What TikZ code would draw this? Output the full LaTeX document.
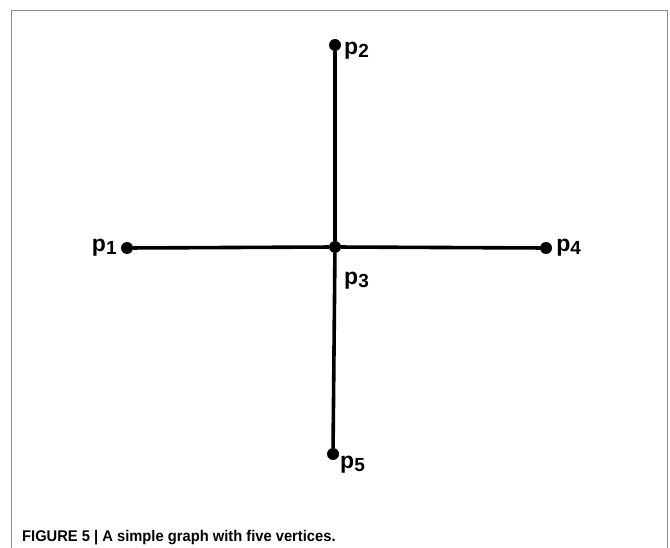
\documentclass[tikz,border=0pt]{standalone}
\usepackage{fontspec}
\setmainfont{Liberation Sans}
\usetikzlibrary{positioning}

\begin{document}
\begin{tikzpicture}[
    x=1pt, y=-1pt,
    node distance=2pt and 3pt,
    vertex/.style={circle, fill=black, inner sep=0pt, minimum size=12pt},
    vlabel/.style={inner sep=0pt, font=\bfseries\fontsize{23}{23}\selectfont},
    edge/.style={line width=3.6pt},
    frameline/.style={draw=black!45, line width=1pt}
]
\useasboundingbox (0,0) rectangle (670,548);

% Frame
\draw[frameline] (11,548) -- (11,11) -- (667,11) -- (667,548);

% Vertices
\node[vertex] (p1) at (127,248) {};
\node[vertex] (p2) at (335,45) {};
\node[vertex] (p3) at (335,247) {};
\node[vertex] (p4) at (546,248) {};
\node[vertex] (p5) at (333,454) {};

% Labels
\node[vlabel, left=4pt of p1] (l1) {p\raisebox{-3pt}{\fontsize{19}{19}\selectfont 1}};
\node[vlabel, anchor=west] (l2) at (344,51) {p\raisebox{-3pt}{\fontsize{19}{19}\selectfont 2}};
\node[vlabel, anchor=west] (l3) at (344,281) {p\raisebox{-3pt}{\fontsize{19}{19}\selectfont 3}};
\node[vlabel, right=4pt of p4] (l4) {p\raisebox{-3pt}{\fontsize{19}{19}\selectfont 4}};
\node[vlabel, anchor=west] (l5) at (340,465) {p\raisebox{-3pt}{\fontsize{19}{19}\selectfont 5}};

% Edges
\draw[edge] (p1) -- (p3);
\draw[edge] (p3) -- (p4);
\draw[edge] (p2) -- (p3);
\draw[edge] (p3) -- (p5);

% Caption
\node[anchor=base west, inner sep=0pt, font=\bfseries\fontsize{15.5}{15.5}\selectfont, xscale=0.95] (caption) at (22,541)
    {FIGURE 5 | A simple graph with five vertices.};
\end{tikzpicture}
\end{document}
